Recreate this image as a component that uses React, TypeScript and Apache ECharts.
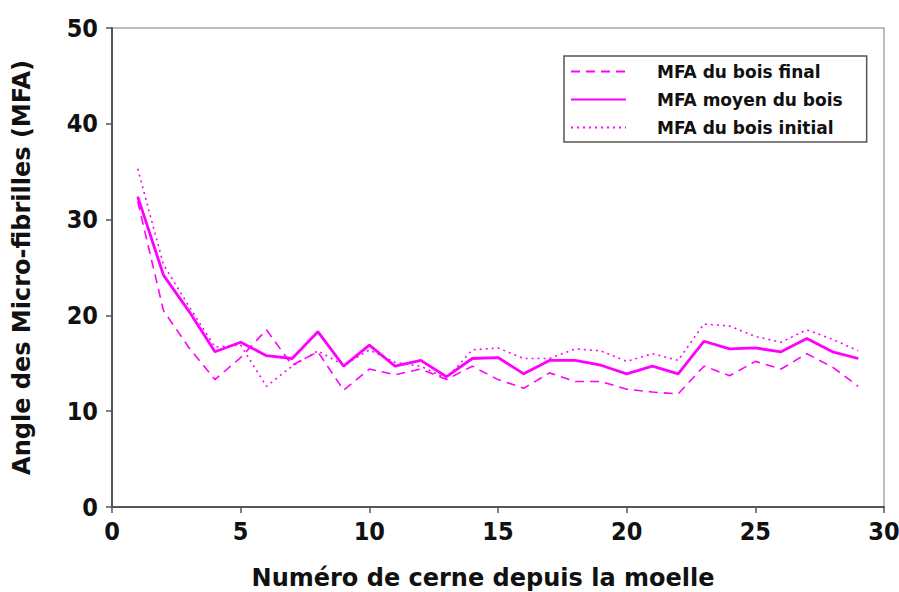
import React, { useEffect, useRef } from "react";
import * as echarts from "echarts";

const rings = [1, 2, 3, 4, 5, 6, 7, 8, 9, 10, 11, 12, 13, 14, 15, 16, 17, 18, 19, 20, 21, 22, 23, 24, 25, 26, 27, 28, 29];
const finalWood = [31.9, 20.5, 16.6, 13.3, 15.6, 18.5, 14.8, 16.2, 12.2, 14.4, 13.8, 14.4, 13.3, 14.7, 13.3, 12.4, 14.0, 13.1, 13.1, 12.3, 12.0, 11.8, 14.7, 13.7, 15.2, 14.4, 16.0, 14.6, 12.6];
const meanWood = [32.4, 24.2, 20.4, 16.2, 17.2, 15.8, 15.5, 18.3, 14.7, 16.9, 14.7, 15.3, 13.6, 15.5, 15.6, 13.9, 15.3, 15.3, 14.8, 13.9, 14.7, 13.9, 17.3, 16.5, 16.6, 16.2, 17.6, 16.2, 15.5];
const initialWood = [35.3, 25.3, 20.9, 16.7, 16.9, 12.6, 14.7, 16.3, 14.8, 16.4, 15.1, 14.7, 13.4, 16.4, 16.6, 15.5, 15.5, 16.5, 16.3, 15.2, 16.0, 15.3, 19.1, 18.9, 17.8, 17.2, 18.5, 17.5, 16.3];
const seriesNames = ["MFA du bois final", "MFA moyen du bois", "MFA du bois initial"];
const xTitle = "Numéro de cerne depuis la moelle";
const yTitle = "Angle des Micro-fibrilles (MFA)";

const FONT = "DejaVu Sans";
const TICK_FONT = "DejaVu Sans Condensed";
const MAGENTA = "#ff00ff";

function pairs(values: number[]) {
  return rings.map((r, i) => [r, values[i]]);
}

export default function App() {
  const ref = useRef<HTMLDivElement>(null);
  useEffect(() => {
    if (!ref.current) return;
    const chart = echarts.init(ref.current, null, { renderer: "svg" });
    chart.setOption({
      animation: false,
      backgroundColor: "#ffffff",
      textStyle: { fontFamily: FONT },
      grid: {
        left: 112,
        top: 28,
        width: 772,
        height: 479,
        containLabel: false,
        outerBoundsMode: "none",
        show: true,
        borderColor: "#a8a8a8",
        borderWidth: 1.5,
        backgroundColor: "transparent",
      },
      legend: {
        orient: "vertical",
        left: 564,
        top: 56,
        padding: [7, 24, 6, 6],
        itemGap: 11,
        itemWidth: 55,
        itemHeight: 16,
        borderColor: "#555",
        borderWidth: 1.5,
        backgroundColor: "#fff",
        data: seriesNames,
        itemStyle: { opacity: 0 },
        textStyle: {
          fontFamily: FONT,
          fontWeight: "bold",
          fontSize: 17,
          color: "#111",
          padding: [0, 0, 0, 26],
        },
      },
      xAxis: {
        type: "value",
        min: 0,
        max: 30,
        interval: 5,
        name: xTitle,
        nameLocation: "middle",
        nameGap: 59,
        nameTextStyle: { fontFamily: FONT, fontWeight: "bold", fontSize: 24, color: "#111", padding: [0, 30, 0, 0] },
        axisLine: { show: true, lineStyle: { color: "#555", width: 2 } },
        axisTick: { show: true, inside: false, length: 6, lineStyle: { color: "#555", width: 1.5 } },
        axisLabel: { fontFamily: TICK_FONT, fontWeight: "bold", fontSize: 25, color: "#111", margin: 12 },
        splitLine: { show: false },
      },
      yAxis: {
        type: "value",
        min: 0,
        max: 50,
        interval: 10,
        name: yTitle,
        nameLocation: "middle",
        nameGap: 78,
        nameRotate: 90,
        nameTextStyle: { fontFamily: FONT, fontWeight: "bold", fontSize: 24, color: "#111" },
        axisLine: { show: true, lineStyle: { color: "#555", width: 2 } },
        axisTick: { show: true, inside: false, length: 6, lineStyle: { color: "#555", width: 1.5 } },
        axisLabel: { fontFamily: TICK_FONT, fontWeight: "bold", fontSize: 25, color: "#111", margin: 14 },
        splitLine: { show: false },
      },
      series: [
        {
          name: seriesNames[0],
          type: "line",
          data: pairs(finalWood),
          symbol: "none",
          showSymbol: false,
          itemStyle: { color: MAGENTA },
          lineStyle: { color: MAGENTA, width: 1.6, type: [9, 6] },
        },
        {
          name: seriesNames[1],
          type: "line",
          data: pairs(meanWood),
          symbol: "none",
          showSymbol: false,
          itemStyle: { color: MAGENTA },
          lineStyle: { color: MAGENTA, width: 2.8, type: "solid" },
        },
        {
          name: seriesNames[2],
          type: "line",
          data: pairs(initialWood),
          symbol: "none",
          showSymbol: false,
          itemStyle: { color: MAGENTA },
          lineStyle: { color: MAGENTA, width: 1.6, type: [2, 4] },
        },
      ],
    });
    return () => chart.dispose();
  }, []);
  return (
    <div
      ref={ref}
      style={{ position: "fixed", left: 0, top: 0, width: 899, height: 592, background: "#fff" }}
    />
  );
}
